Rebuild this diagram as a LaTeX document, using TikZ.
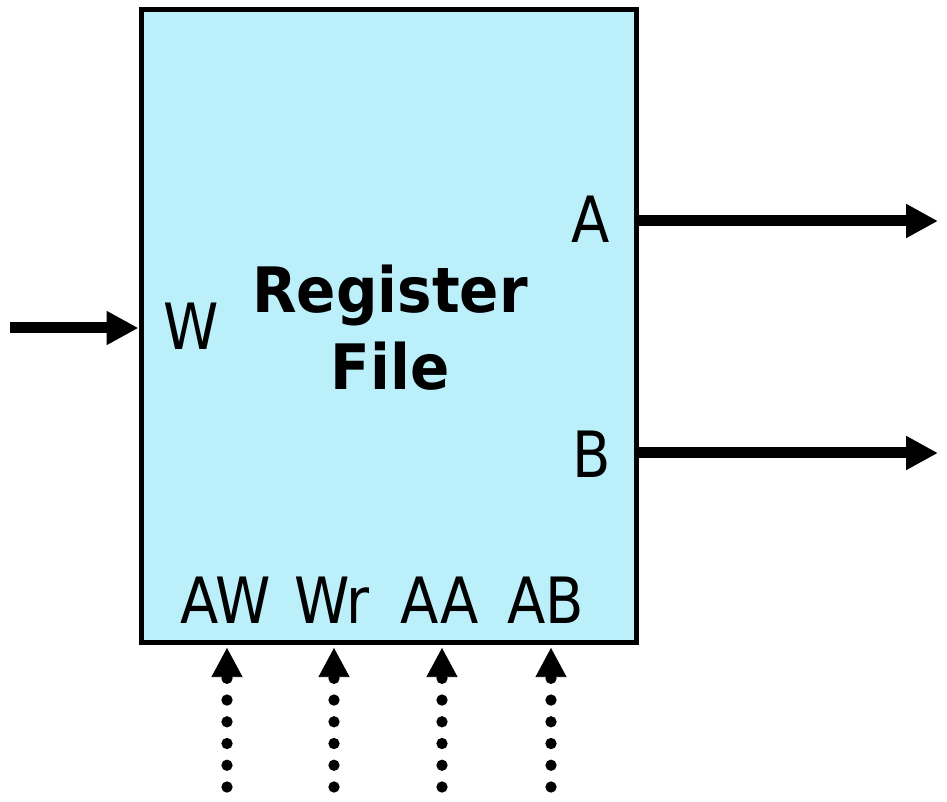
\documentclass[tikz,border=0pt]{standalone}
\usepackage{fontspec}
\setmainfont{DejaVu Sans}
\usetikzlibrary{arrows.meta}
\definecolor{rfcyan}{RGB}{187,240,251}
\newcommand{\tallA}[1]{\scalebox{1}[1.14]{#1}}
\newcommand{\tallB}[1]{\scalebox{1}[1.08]{#1}}
\tikzset{
  lbl/.style={anchor=base,inner sep=0pt,font=\fontsize{42pt}{46pt}\selectfont},
  title/.style={anchor=base,inner sep=0pt,font=\fontsize{43.5pt}{47pt}\selectfont\bfseries},
  bus/.style={line width=8.25pt,-{Triangle[length=24pt,width=24pt]}},
  dotline/.style={line width=8.5pt,line cap=round,dash pattern=on 0pt off 16.3pt},
  ctrltip/.style={line width=0.5pt,-{Triangle[length=21.75pt,width=23.25pt]}}
}
\begin{document}
\begin{tikzpicture}[x=0.75pt,y=-0.75pt]
\useasboundingbox (0,0) rectangle (947,802);
\node[draw,fill=rfcyan,line width=3.75pt,minimum width=371.25pt,minimum height=474pt,inner sep=0pt] (rf) at (388.5,326) {};
\node[title] (reg) at (390,313) {\tallB{Register}};
\node[title] (file) at (390,390) {\tallB{File}};
\node[lbl] (w) at (191,350) {\tallA{W}};
\node[lbl] (a) at (591,243) {\tallA{A}};
\node[lbl] (b) at (592,478) {\tallA{B}};
\node[lbl] (aw) at (226,623) {\tallA{AW}};
\node[lbl] (wr) at (332,623) {\tallA{Wr}};
\node[lbl] (aa) at (440,623) {\tallA{AA}};
\node[lbl] (ab) at (546,623) {\tallA{AB}};
\coordinate (win) at (10,328);
\coordinate (aout) at (938,221);
\coordinate (bout) at (938,453);
\draw[bus] (win) -- (rf.west |- win);
\draw[bus] (rf.east |- aout) -- (aout);
\draw[bus] (rf.east |- bout) -- (bout);
\foreach \n/\x in {c1/227,c2/334,c3/442,c4/551}{
  \coordinate (\n bot) at (\x,787);
  \coordinate (\n top) at (\x,678);
  \draw[dotline] (\n bot) -- (\n top);
  \draw[ctrltip] (\n top) -- (\x,648);
}
\end{tikzpicture}
\end{document}
